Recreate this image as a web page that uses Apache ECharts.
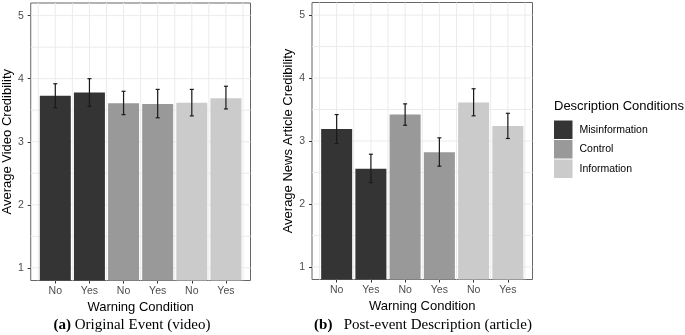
<!DOCTYPE html>
<html>
<head>
<meta charset="utf-8">
<script src="https://cdn.jsdelivr.net/npm/echarts@6/dist/echarts.min.js"></script>
<style>
  html, body { margin: 0; padding: 0; background: #fff; }
  #main { width: 685px; height: 335px; }
</style>
</head>
<body>
<div id="main"></div>
<script>
// data
const conditions = ['Misinformation', 'Control', 'Information'];
const conditionColors = ['#343434', '#999999', '#cbcbcb'];
const warningLabels = ['No', 'Yes', 'No', 'Yes', 'No', 'Yes'];
const positions = [1, 2, 3, 4, 5, 6];

// (a) original event (video)
const videoMeans = [3.73, 3.78, 3.61, 3.60, 3.62, 3.69];
const videoLow = [3.54, 3.56, 3.43, 3.38, 3.41, 3.52];
const videoHigh = [3.92, 4.00, 3.80, 3.83, 3.83, 3.88];

// (b) post-event description (article)
const articleMeans = [3.19, 2.56, 3.42, 2.82, 3.61, 3.24];
const articleLow = [2.96, 2.34, 3.25, 2.60, 3.40, 3.04];
const articleHigh = [3.42, 2.79, 3.59, 3.05, 3.83, 3.44];

const yTicks = [1, 2, 3, 4, 5];
const yMinor = [1.5, 2.5, 3.5, 4.5];
const xMinor = [0.5, 1.5, 2.5, 3.5, 4.5, 5.5, 6.5];

const sans = 'Liberation Sans';
const gridColor = '#ebebeb';

const myChart = echarts.init(document.getElementById('main'));

function renderErrorBar(params, api) {
  const x = api.value(0);
  const lo = api.coord([x, api.value(1)]);
  const hi = api.coord([x, api.value(2)]);
  const cap = 2;
  const style = { stroke: '#1a1a1a', lineWidth: 1.2 };
  return {
    type: 'group',
    children: [
      { type: 'line', shape: { x1: lo[0], y1: lo[1], x2: hi[0], y2: hi[1] }, style: style },
      { type: 'line', shape: { x1: lo[0] - cap, y1: lo[1], x2: lo[0] + cap, y2: lo[1] }, style: style },
      { type: 'line', shape: { x1: hi[0] - cap, y1: hi[1], x2: hi[0] + cap, y2: hi[1] }, style: style }
    ]
  };
}

// background grid lines (ggplot style, major + minor)
function gridLines(gridIndex, dir, values) {
  return {
    type: 'custom',
    xAxisIndex: gridIndex,
    yAxisIndex: gridIndex,
    silent: true,
    z: 1,
    data: values.map(v => (dir === 'v' ? [v, 3] : [3, v])),
    renderItem: function (params, api) {
      const cs = params.coordSys;
      const p = api.coord([api.value(0), api.value(1)]);
      const shape = dir === 'v'
        ? { x1: p[0], y1: cs.y, x2: p[0], y2: cs.y + cs.height }
        : { x1: cs.x, y1: p[1], x2: cs.x + cs.width, y2: p[1] };
      return { type: 'line', shape: shape, style: { stroke: gridColor, lineWidth: 1 } };
    }
  };
}

function panelSeries(gridIndex, means, low, high) {
  const list = [];
  list.push(gridLines(gridIndex, 'v', positions.concat(xMinor)));
  list.push(gridLines(gridIndex, 'h', yTicks.concat(yMinor)));
  conditions.forEach(function (name, i) {
    list.push({
      name: name,
      type: 'bar',
      xAxisIndex: gridIndex,
      yAxisIndex: gridIndex,
      barWidth: 31,
      barGap: '-100%',
      z: 2,
      itemStyle: { color: conditionColors[i] },
      data: [0, 1].map(k => [positions[2 * i + k], means[2 * i + k]])
    });
  });
  list.push({
    type: 'custom',
    xAxisIndex: gridIndex,
    yAxisIndex: gridIndex,
    z: 3,
    renderItem: renderErrorBar,
    encode: { x: 0, y: [1, 2] },
    data: positions.map((p, i) => [p, low[i], high[i]])
  });
  return list;
}

function xAxisFor(gridIndex) {
  return {
    type: 'value',
    gridIndex: gridIndex,
    min: 0.28,
    max: 6.72,
    name: 'Warning Condition',
    nameLocation: 'middle',
    nameGap: 18,
    nameTextStyle: { fontFamily: sans, fontSize: 13, color: '#000' },
    axisLine: { show: false },
    splitLine: { show: false },
    axisTick: { show: true, length: 3, customValues: positions, lineStyle: { color: '#333' } },
    axisLabel: {
      customValues: positions,
      margin: 5,
      fontFamily: sans,
      fontSize: 10.5,
      color: '#4d4d4d',
      formatter: v => warningLabels[Math.round(v) - 1]
    }
  };
}

function yAxisFor(gridIndex, title, gap) {
  return {
    type: 'value',
    gridIndex: gridIndex,
    min: 0.8,
    max: 5.2,
    name: title,
    nameLocation: 'middle',
    nameGap: gap,
    nameTextStyle: { fontFamily: sans, fontSize: 13, color: '#000' },
    axisLine: { show: false },
    splitLine: { show: false },
    axisTick: { show: true, length: 3, customValues: yTicks, lineStyle: { color: '#333' } },
    axisLabel: {
      customValues: yTicks,
      margin: 7,
      fontFamily: sans,
      fontSize: 10.5,
      color: '#4d4d4d'
    }
  };
}

myChart.setOption({
  animation: false,
  grid: [
    { left: 28.5, top: 3, width: 222, height: 277.5, show: true, borderColor: '#666', borderWidth: 1, backgroundColor: 'transparent' },
    { left: 312, top: 2.5, width: 220.5, height: 277, show: true, borderColor: '#666', borderWidth: 1, backgroundColor: 'transparent' }
  ],
  xAxis: [xAxisFor(0), xAxisFor(1)],
  yAxis: [
    yAxisFor(0, 'Average Video Credibility', 15),
    yAxisFor(1, 'Average News Article Credibility', 16.5)
  ],
  title: {
    text: 'Description Conditions',
    left: 554,
    top: 100,
    padding: 0,
    textStyle: { fontFamily: sans, fontSize: 13, fontWeight: 'normal', color: '#000' }
  },
  legend: {
    data: conditions,
    orient: 'vertical',
    left: 554,
    top: 120.5,
    padding: 0,
    icon: 'rect',
    itemWidth: 18.5,
    itemHeight: 18.5,
    itemGap: 1,
    textStyle: { fontFamily: sans, fontSize: 10.5, color: '#000', padding: [0, 0, 0, 2] }
  },
  graphic: [
    {
      type: 'text',
      x: 132,
      y: 325,
      style: {
        text: '{b|(a)} Original Event (video)',
        font: '15px "Liberation Serif"',
        fill: '#000',
        align: 'center',
        verticalAlign: 'middle',
        rich: { b: { fontWeight: 'bold', fontSize: 15, fontFamily: 'Liberation Serif' } }
      }
    },
    {
      type: 'text',
      x: 423,
      y: 325,
      style: {
        text: '{b|(b)}   Post-event Description (article)',
        font: '15px "Liberation Serif"',
        fill: '#000',
        align: 'center',
        verticalAlign: 'middle',
        rich: { b: { fontWeight: 'bold', fontSize: 15, fontFamily: 'Liberation Serif' } }
      }
    }
  ],
  series: panelSeries(0, videoMeans, videoLow, videoHigh)
    .concat(panelSeries(1, articleMeans, articleLow, articleHigh))
});
</script>
</body>
</html>
